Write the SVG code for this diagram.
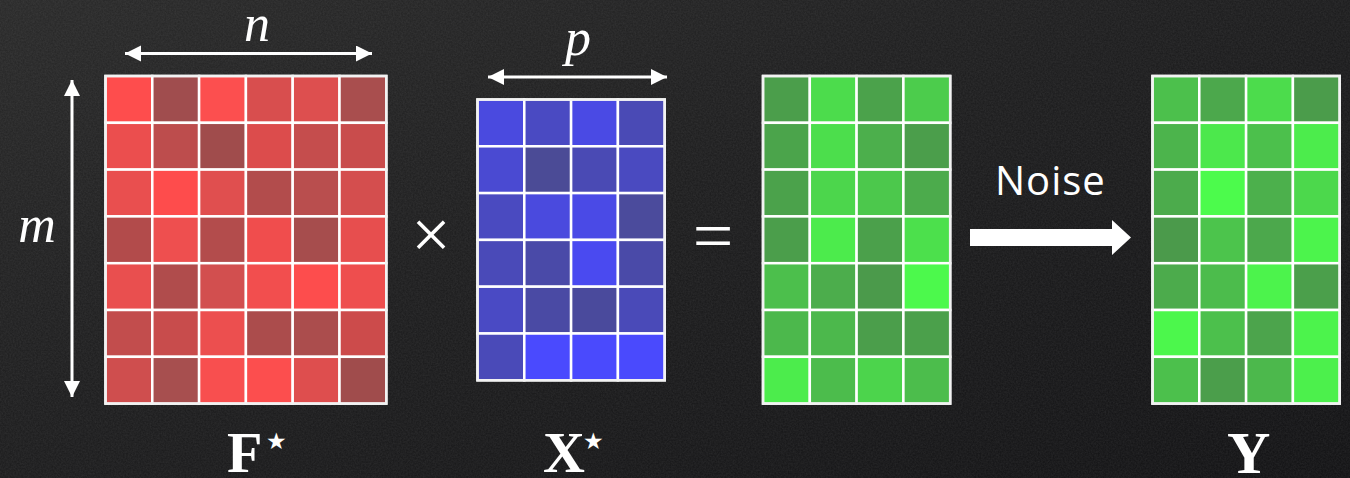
<svg xmlns="http://www.w3.org/2000/svg" width="1350" height="478" viewBox="0 0 1350 478">
<defs>
<linearGradient id="bg" x1="0" y1="0" x2="1" y2="1">
<stop offset="0" stop-color="#2b2b2b"/>
<stop offset="0.45" stop-color="#1f1f20"/>
<stop offset="1" stop-color="#141416"/>
</linearGradient>
<filter id="chalk" x="0" y="0" width="100%" height="100%">
<feTurbulence type="fractalNoise" baseFrequency="0.6" numOctaves="3" seed="3"/>
<feColorMatrix type="matrix" values="0 0 0 0 1  0 0 0 0 1  0 0 0 0 1  0 0 0 0.09 -0.02"/>
</filter>
<marker id="ah" markerUnits="userSpaceOnUse" markerWidth="17" markerHeight="17" refX="16" refY="8" orient="auto-start-reverse" viewBox="0 0 17 17">
<path d="M0,0 L16,8 L0,16 z" fill="#ffffff"/>
</marker>
<style>
.c{stroke:#ffffff;stroke-width:2.5}
.frame{fill:none;stroke:#f2f2f2;stroke-width:2.5}
.math{font-family:"Liberation Serif","DejaVu Serif",serif;font-style:italic;fill:#ffffff}
.bold{font-family:"Liberation Serif",serif;font-weight:bold;fill:#ffffff}
.star{font-family:"DejaVu Sans",sans-serif;fill:#ffffff}
.op{font-family:"Liberation Serif",serif;fill:#ffffff}
.dim{stroke:#ffffff;stroke-width:3;fill:none;marker-start:url(#ah);marker-end:url(#ah)}
</style>
</defs>
<rect width="1350" height="478" fill="url(#bg)"/>
<rect width="1350" height="478" filter="url(#chalk)"/>

<g id="F-matrix" transform="translate(105.5,76)">
<rect class="c" x="0" y="0" width="46.8" height="46.8" fill="#fe4d4d"/>
<rect class="c" x="46.8" y="0" width="46.8" height="46.8" fill="#a04d4e"/>
<rect class="c" x="93.6" y="0" width="46.8" height="46.8" fill="#fc4f4f"/>
<rect class="c" x="140.4" y="0" width="46.8" height="46.8" fill="#d84e4e"/>
<rect class="c" x="187.2" y="0" width="46.8" height="46.8" fill="#dd4f4f"/>
<rect class="c" x="234" y="0" width="46.8" height="46.8" fill="#a94e4e"/>
<rect class="c" x="0" y="46.8" width="46.8" height="46.8" fill="#eb4e4e"/>
<rect class="c" x="46.8" y="46.8" width="46.8" height="46.8" fill="#bd4d4d"/>
<rect class="c" x="93.6" y="46.8" width="46.8" height="46.8" fill="#a04c4c"/>
<rect class="c" x="140.4" y="46.8" width="46.8" height="46.8" fill="#dc4c4c"/>
<rect class="c" x="187.2" y="46.8" width="46.8" height="46.8" fill="#c54d4d"/>
<rect class="c" x="234" y="46.8" width="46.8" height="46.8" fill="#c94c4c"/>
<rect class="c" x="0" y="93.6" width="46.8" height="46.8" fill="#e94f4f"/>
<rect class="c" x="46.8" y="93.6" width="46.8" height="46.8" fill="#fe4c4c"/>
<rect class="c" x="93.6" y="93.6" width="46.8" height="46.8" fill="#e04f4f"/>
<rect class="c" x="140.4" y="93.6" width="46.8" height="46.8" fill="#b24c4c"/>
<rect class="c" x="187.2" y="93.6" width="46.8" height="46.8" fill="#b94e4e"/>
<rect class="c" x="234" y="93.6" width="46.8" height="46.8" fill="#d44e4e"/>
<rect class="c" x="0" y="140.4" width="46.8" height="46.8" fill="#b24b4b"/>
<rect class="c" x="46.8" y="140.4" width="46.8" height="46.8" fill="#ee4f4f"/>
<rect class="c" x="93.6" y="140.4" width="46.8" height="46.8" fill="#b34c4c"/>
<rect class="c" x="140.4" y="140.4" width="46.8" height="46.8" fill="#f04d4d"/>
<rect class="c" x="187.2" y="140.4" width="46.8" height="46.8" fill="#a64d4d"/>
<rect class="c" x="234" y="140.4" width="46.8" height="46.8" fill="#e74e4e"/>
<rect class="c" x="0" y="187.2" width="46.8" height="46.8" fill="#e94f4f"/>
<rect class="c" x="46.8" y="187.2" width="46.8" height="46.8" fill="#b04c4c"/>
<rect class="c" x="93.6" y="187.2" width="46.8" height="46.8" fill="#d24f4f"/>
<rect class="c" x="140.4" y="187.2" width="46.8" height="46.8" fill="#f24e4e"/>
<rect class="c" x="187.2" y="187.2" width="46.8" height="46.8" fill="#fd4d4d"/>
<rect class="c" x="234" y="187.2" width="46.8" height="46.8" fill="#ee4e4e"/>
<rect class="c" x="0" y="234" width="46.8" height="46.8" fill="#c24d4d"/>
<rect class="c" x="46.8" y="234" width="46.8" height="46.8" fill="#c84c4c"/>
<rect class="c" x="93.6" y="234" width="46.8" height="46.8" fill="#ec4f4f"/>
<rect class="c" x="140.4" y="234" width="46.8" height="46.8" fill="#ab4c4c"/>
<rect class="c" x="187.2" y="234" width="46.8" height="46.8" fill="#ab4d4d"/>
<rect class="c" x="234" y="234" width="46.8" height="46.8" fill="#cc4b4b"/>
<rect class="c" x="0" y="280.8" width="46.8" height="46.8" fill="#cf4e4e"/>
<rect class="c" x="46.8" y="280.8" width="46.8" height="46.8" fill="#a74f4f"/>
<rect class="c" x="93.6" y="280.8" width="46.8" height="46.8" fill="#f84f4f"/>
<rect class="c" x="140.4" y="280.8" width="46.8" height="46.8" fill="#fc4e4e"/>
<rect class="c" x="187.2" y="280.8" width="46.8" height="46.8" fill="#de4e4e"/>
<rect class="c" x="234" y="280.8" width="46.8" height="46.8" fill="#a04c4c"/>
<rect class="frame" x="0" y="0" width="280.8" height="327.6"/>
</g>

<g id="X-matrix" transform="translate(477.5,99.5)">
<rect class="c" x="0" y="0" width="46.8" height="46.8" fill="#4a4adf"/>
<rect class="c" x="46.8" y="0" width="46.8" height="46.8" fill="#4a4ac2"/>
<rect class="c" x="93.6" y="0" width="46.8" height="46.8" fill="#4a4ae4"/>
<rect class="c" x="140.4" y="0" width="46.8" height="46.8" fill="#4a4ab5"/>
<rect class="c" x="0" y="46.8" width="46.8" height="46.8" fill="#4a4ad2"/>
<rect class="c" x="46.8" y="46.8" width="46.8" height="46.8" fill="#4b4b96"/>
<rect class="c" x="93.6" y="46.8" width="46.8" height="46.8" fill="#4a4ab4"/>
<rect class="c" x="140.4" y="46.8" width="46.8" height="46.8" fill="#4a4ac0"/>
<rect class="c" x="0" y="93.6" width="46.8" height="46.8" fill="#4a4ac0"/>
<rect class="c" x="46.8" y="93.6" width="46.8" height="46.8" fill="#4a4ade"/>
<rect class="c" x="93.6" y="93.6" width="46.8" height="46.8" fill="#4a4ae6"/>
<rect class="c" x="140.4" y="93.6" width="46.8" height="46.8" fill="#4b4b9c"/>
<rect class="c" x="0" y="140.4" width="46.8" height="46.8" fill="#4a4ab8"/>
<rect class="c" x="46.8" y="140.4" width="46.8" height="46.8" fill="#4a4aa8"/>
<rect class="c" x="93.6" y="140.4" width="46.8" height="46.8" fill="#4a4af0"/>
<rect class="c" x="140.4" y="140.4" width="46.8" height="46.8" fill="#4a4aa8"/>
<rect class="c" x="0" y="187.2" width="46.8" height="46.8" fill="#4a4ac4"/>
<rect class="c" x="46.8" y="187.2" width="46.8" height="46.8" fill="#4a4aa4"/>
<rect class="c" x="93.6" y="187.2" width="46.8" height="46.8" fill="#4a4a9c"/>
<rect class="c" x="140.4" y="187.2" width="46.8" height="46.8" fill="#4a4ab8"/>
<rect class="c" x="0" y="234" width="46.8" height="46.8" fill="#4a4ab8"/>
<rect class="c" x="46.8" y="234" width="46.8" height="46.8" fill="#4a4afe"/>
<rect class="c" x="93.6" y="234" width="46.8" height="46.8" fill="#4a4afd"/>
<rect class="c" x="140.4" y="234" width="46.8" height="46.8" fill="#4a4afd"/>
<rect class="frame" x="0" y="0" width="187.2" height="280.8"/>
</g>

<g id="product-matrix" transform="translate(763,76)">
<rect class="c" x="0" y="0" width="46.8" height="46.8" fill="#4b9e4b"/>
<rect class="c" x="46.8" y="0" width="46.8" height="46.8" fill="#4cdc4c"/>
<rect class="c" x="93.6" y="0" width="46.8" height="46.8" fill="#4ba24b"/>
<rect class="c" x="140.4" y="0" width="46.8" height="46.8" fill="#4ccc4c"/>
<rect class="c" x="0" y="46.8" width="46.8" height="46.8" fill="#4ba44b"/>
<rect class="c" x="46.8" y="46.8" width="46.8" height="46.8" fill="#4cde4c"/>
<rect class="c" x="93.6" y="46.8" width="46.8" height="46.8" fill="#4caf4c"/>
<rect class="c" x="140.4" y="46.8" width="46.8" height="46.8" fill="#4b9e4b"/>
<rect class="c" x="0" y="93.6" width="46.8" height="46.8" fill="#4ba24b"/>
<rect class="c" x="46.8" y="93.6" width="46.8" height="46.8" fill="#4cd64c"/>
<rect class="c" x="93.6" y="93.6" width="46.8" height="46.8" fill="#4cc84c"/>
<rect class="c" x="140.4" y="93.6" width="46.8" height="46.8" fill="#4cab4c"/>
<rect class="c" x="0" y="140.4" width="46.8" height="46.8" fill="#4b9e4b"/>
<rect class="c" x="46.8" y="140.4" width="46.8" height="46.8" fill="#4ceb4c"/>
<rect class="c" x="93.6" y="140.4" width="46.8" height="46.8" fill="#4ba04b"/>
<rect class="c" x="140.4" y="140.4" width="46.8" height="46.8" fill="#4ce04c"/>
<rect class="c" x="0" y="187.2" width="46.8" height="46.8" fill="#4cbf4c"/>
<rect class="c" x="46.8" y="187.2" width="46.8" height="46.8" fill="#4cad4c"/>
<rect class="c" x="93.6" y="187.2" width="46.8" height="46.8" fill="#4b9a4b"/>
<rect class="c" x="140.4" y="187.2" width="46.8" height="46.8" fill="#4cf94c"/>
<rect class="c" x="0" y="234" width="46.8" height="46.8" fill="#4cb84c"/>
<rect class="c" x="46.8" y="234" width="46.8" height="46.8" fill="#4cb84c"/>
<rect class="c" x="93.6" y="234" width="46.8" height="46.8" fill="#4b9e4b"/>
<rect class="c" x="140.4" y="234" width="46.8" height="46.8" fill="#4ba04b"/>
<rect class="c" x="0" y="280.8" width="46.8" height="46.8" fill="#4cec4c"/>
<rect class="c" x="46.8" y="280.8" width="46.8" height="46.8" fill="#4cbc4c"/>
<rect class="c" x="93.6" y="280.8" width="46.8" height="46.8" fill="#4cd44c"/>
<rect class="c" x="140.4" y="280.8" width="46.8" height="46.8" fill="#4cbd4c"/>
<rect class="frame" x="0" y="0" width="187.2" height="327.6"/>
</g>

<g id="Y-matrix" transform="translate(1152.5,76)">
<rect class="c" x="0" y="0" width="46.8" height="46.8" fill="#4cc04c"/>
<rect class="c" x="46.8" y="0" width="46.8" height="46.8" fill="#4ca84c"/>
<rect class="c" x="93.6" y="0" width="46.8" height="46.8" fill="#4cdc4c"/>
<rect class="c" x="140.4" y="0" width="46.8" height="46.8" fill="#4b9c4b"/>
<rect class="c" x="0" y="46.8" width="46.8" height="46.8" fill="#4cb44c"/>
<rect class="c" x="46.8" y="46.8" width="46.8" height="46.8" fill="#4ce84c"/>
<rect class="c" x="93.6" y="46.8" width="46.8" height="46.8" fill="#4cc04c"/>
<rect class="c" x="140.4" y="46.8" width="46.8" height="46.8" fill="#4cec4c"/>
<rect class="c" x="0" y="93.6" width="46.8" height="46.8" fill="#4cab4c"/>
<rect class="c" x="46.8" y="93.6" width="46.8" height="46.8" fill="#4cfb4c"/>
<rect class="c" x="93.6" y="93.6" width="46.8" height="46.8" fill="#4cb04c"/>
<rect class="c" x="140.4" y="93.6" width="46.8" height="46.8" fill="#4cd84c"/>
<rect class="c" x="0" y="140.4" width="46.8" height="46.8" fill="#4b9a4b"/>
<rect class="c" x="46.8" y="140.4" width="46.8" height="46.8" fill="#4cc44c"/>
<rect class="c" x="93.6" y="140.4" width="46.8" height="46.8" fill="#4ca84c"/>
<rect class="c" x="140.4" y="140.4" width="46.8" height="46.8" fill="#4cf44c"/>
<rect class="c" x="0" y="187.2" width="46.8" height="46.8" fill="#4cab4c"/>
<rect class="c" x="46.8" y="187.2" width="46.8" height="46.8" fill="#4cbc4c"/>
<rect class="c" x="93.6" y="187.2" width="46.8" height="46.8" fill="#4cf34c"/>
<rect class="c" x="140.4" y="187.2" width="46.8" height="46.8" fill="#4b9f4b"/>
<rect class="c" x="0" y="234" width="46.8" height="46.8" fill="#4cf74c"/>
<rect class="c" x="46.8" y="234" width="46.8" height="46.8" fill="#4cc04c"/>
<rect class="c" x="93.6" y="234" width="46.8" height="46.8" fill="#4ca44c"/>
<rect class="c" x="140.4" y="234" width="46.8" height="46.8" fill="#4cf34c"/>
<rect class="c" x="0" y="280.8" width="46.8" height="46.8" fill="#4cc04c"/>
<rect class="c" x="46.8" y="280.8" width="46.8" height="46.8" fill="#4b9e4b"/>
<rect class="c" x="93.6" y="280.8" width="46.8" height="46.8" fill="#4cb84c"/>
<rect class="c" x="140.4" y="280.8" width="46.8" height="46.8" fill="#4cf04c"/>
<rect class="frame" x="0" y="0" width="187.2" height="327.6"/>
</g>

<g id="connectors">
<line class="dim" x1="125" y1="53.5" x2="372" y2="53.5"/>
<line class="dim" x1="72" y1="80" x2="72" y2="397"/>
<line class="dim" x1="488" y1="77" x2="667" y2="77"/>
<polygon points="970,229 1112,229 1112,220 1131,237.5 1112,255 1112,246 970,246" fill="#ffffff"/>
</g>

<g id="labels">
<text class="math" x="257" y="41" font-size="52" text-anchor="middle">n</text>
<text class="math" x="37" y="242" font-size="52" text-anchor="middle">m</text>
<text class="math" x="578" y="55" font-size="52" text-anchor="middle">p</text>
<text class="op" x="431" y="258" font-size="70" text-anchor="middle">×</text>
<text class="op" x="713" y="260" font-size="72" text-anchor="middle">=</text>
<text x="995" y="195" font-family="'Open Sans',sans-serif" font-weight="500" font-size="40" letter-spacing="1" fill="#ffffff">Noise</text>
<text class="bold" x="227" y="472" font-size="58">F</text>
<text class="star" x="266" y="449" font-size="23">★</text>
<text class="bold" x="543" y="472" font-size="58">X</text>
<text class="star" x="583" y="449" font-size="23">★</text>
<text class="bold" x="1227" y="473" font-size="60">Y</text>
</g>
</svg>
